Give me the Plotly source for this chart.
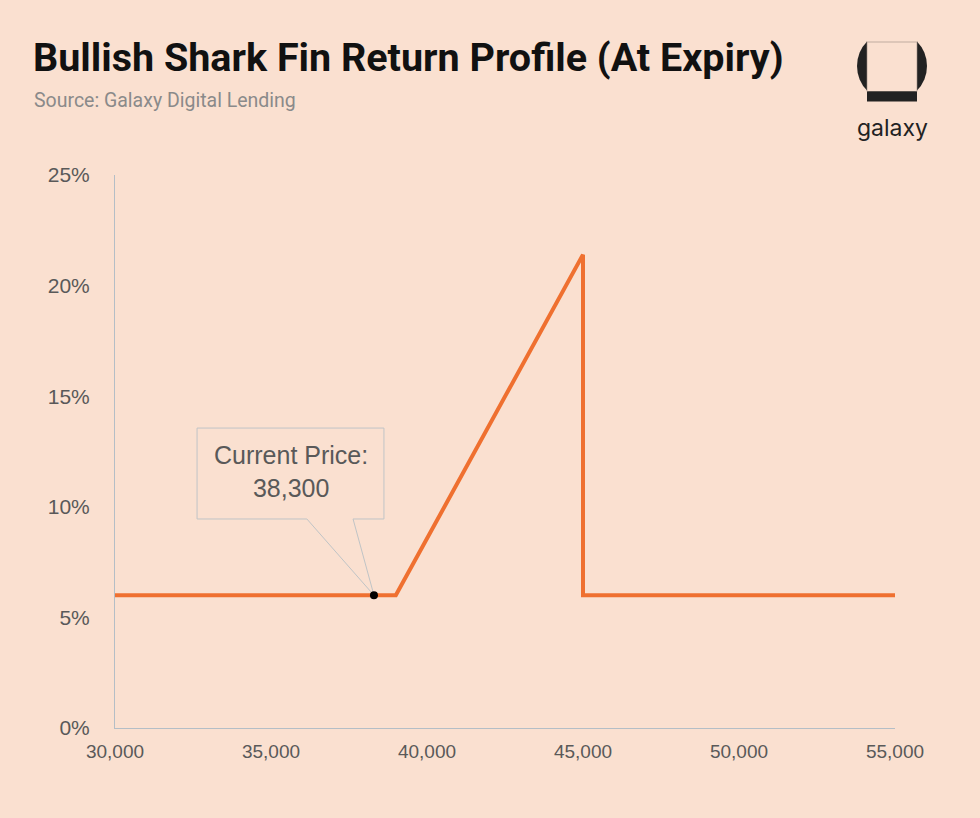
import plotly.graph_objects as go

# ---- data ----
btc_price = [30000, 39000, 45000, 45000, 55000]
return_pct = [6.0, 6.0, 21.4, 6.0, 6.0]
current_price = [38300]
current_return = [6.0]
x_ticks = [30000, 35000, 40000, 45000, 50000, 55000]
y_ticks = [0, 5, 10, 15, 20, 25]
y_tick_labels = ["0%", "5%", "10%", "15%", "20%", "25%"]

BG = "#FAE0D0"
ORANGE = "#EF7030"
GRAY = "#595959"
AXIS = "#B4BEC6"

W, H = 980, 818
L, R, T, B = 115, 85, 175, 90
PW, PH = W - L - R, H - T - B

def px(xp):
    return (xp - L) / PW

def py(yp):
    return (H - B - yp) / PH

fig = go.Figure()
fig.add_trace(go.Scatter(x=btc_price, y=return_pct, mode="lines",
                         line=dict(color=ORANGE, width=4), hoverinfo="skip"))
fig.add_trace(go.Scatter(x=current_price, y=current_return, mode="markers",
                         marker=dict(color="black", size=8), hoverinfo="skip"))

# callout box (data coords relative to current price)
cx, cy = current_price[0], current_return[0]
bx0, bx1 = cx - 5670, cx + 320
by0, by1 = cy + 3.45, cy + 7.56
wx0, wx1 = cx - 2150, cx - 670
path = (f"M {bx0},{by1} L {bx1},{by1} L {bx1},{by0} L {wx1},{by0} "
        f"L {cx},{cy} L {wx0},{by0} L {bx0},{by0} Z")
fig.add_shape(type="path", path=path, xref="x", yref="y",
              line=dict(color="#C0C4C6", width=1), fillcolor=BG, layer="below")
fig.add_annotation(x=(bx0 + bx1) / 2, y=(by0 + by1) / 2 + 0.1, xref="x", yref="y",
                   text="Current Price:<br>38,300", showarrow=False,
                   font=dict(family="Liberation Sans, Arial", size=25, color=GRAY))

# title & subtitle
fig.add_annotation(x=px(31), y=py(32), xref="paper", yref="paper",
                   xanchor="left", yanchor="top", showarrow=False,
                   text="<b>Bullish Shark Fin Return Profile (At Expiry)</b>",
                   font=dict(family="Roboto", size=39.5, color="#111111"))
fig.add_annotation(x=px(32), y=py(87), xref="paper", yref="paper",
                   xanchor="left", yanchor="top", showarrow=False,
                   text="Source: Galaxy Digital Lending",
                   font=dict(family="Roboto", size=19.5, color="#8A8A8A"))

# logo
fig.add_shape(type="circle", xref="paper", yref="paper",
              x0=px(857), x1=px(927), y0=py(31), y1=py(101),
              fillcolor="#222222", line=dict(width=0))
fig.add_shape(type="rect", xref="paper", yref="paper",
              x0=px(867), x1=px(917), y0=py(25), y1=py(42),
              fillcolor=BG, line=dict(width=0))
fig.add_shape(type="rect", xref="paper", yref="paper",
              x0=px(867), x1=px(917), y0=py(42), y1=py(91.5),
              fillcolor=BG, line=dict(color="#9A8A80", width=0.6))
fig.add_shape(type="rect", xref="paper", yref="paper",
              x0=px(867), x1=px(917), y0=py(91.5), y1=py(101.5),
              fillcolor="#222222", line=dict(width=0))
fig.add_annotation(x=px(892), y=py(128), xref="paper", yref="paper",
                   xanchor="center", yanchor="middle", showarrow=False,
                   text="galaxy",
                   font=dict(family="Inter", size=23, color="#222222"))

fig.update_layout(
    width=W, height=H,
    margin=dict(l=L, r=R, t=T, b=B),
    paper_bgcolor=BG, plot_bgcolor=BG,
    showlegend=False,
    xaxis=dict(range=[30000, 55000], tickvals=x_ticks, tickformat=",",
               showgrid=False, zeroline=False, showline=True, linecolor=AXIS,
               linewidth=1, ticks="outside", ticklen=6, tickcolor=BG,
               tickfont=dict(family="Liberation Sans, Arial", size=19, color=GRAY)),
    yaxis=dict(range=[0, 25], tickvals=y_ticks, ticktext=y_tick_labels,
               showgrid=False, zeroline=False, showline=True, linecolor=AXIS,
               linewidth=1, ticks="outside", ticklen=20, tickcolor=BG,
               tickfont=dict(family="Liberation Sans, Arial", size=21, color=GRAY)),
)

fig.write_html("out.html", config={"displayModeBar": False},
               post_script="document.body.style.margin='0';document.body.style.overflow='hidden';")
